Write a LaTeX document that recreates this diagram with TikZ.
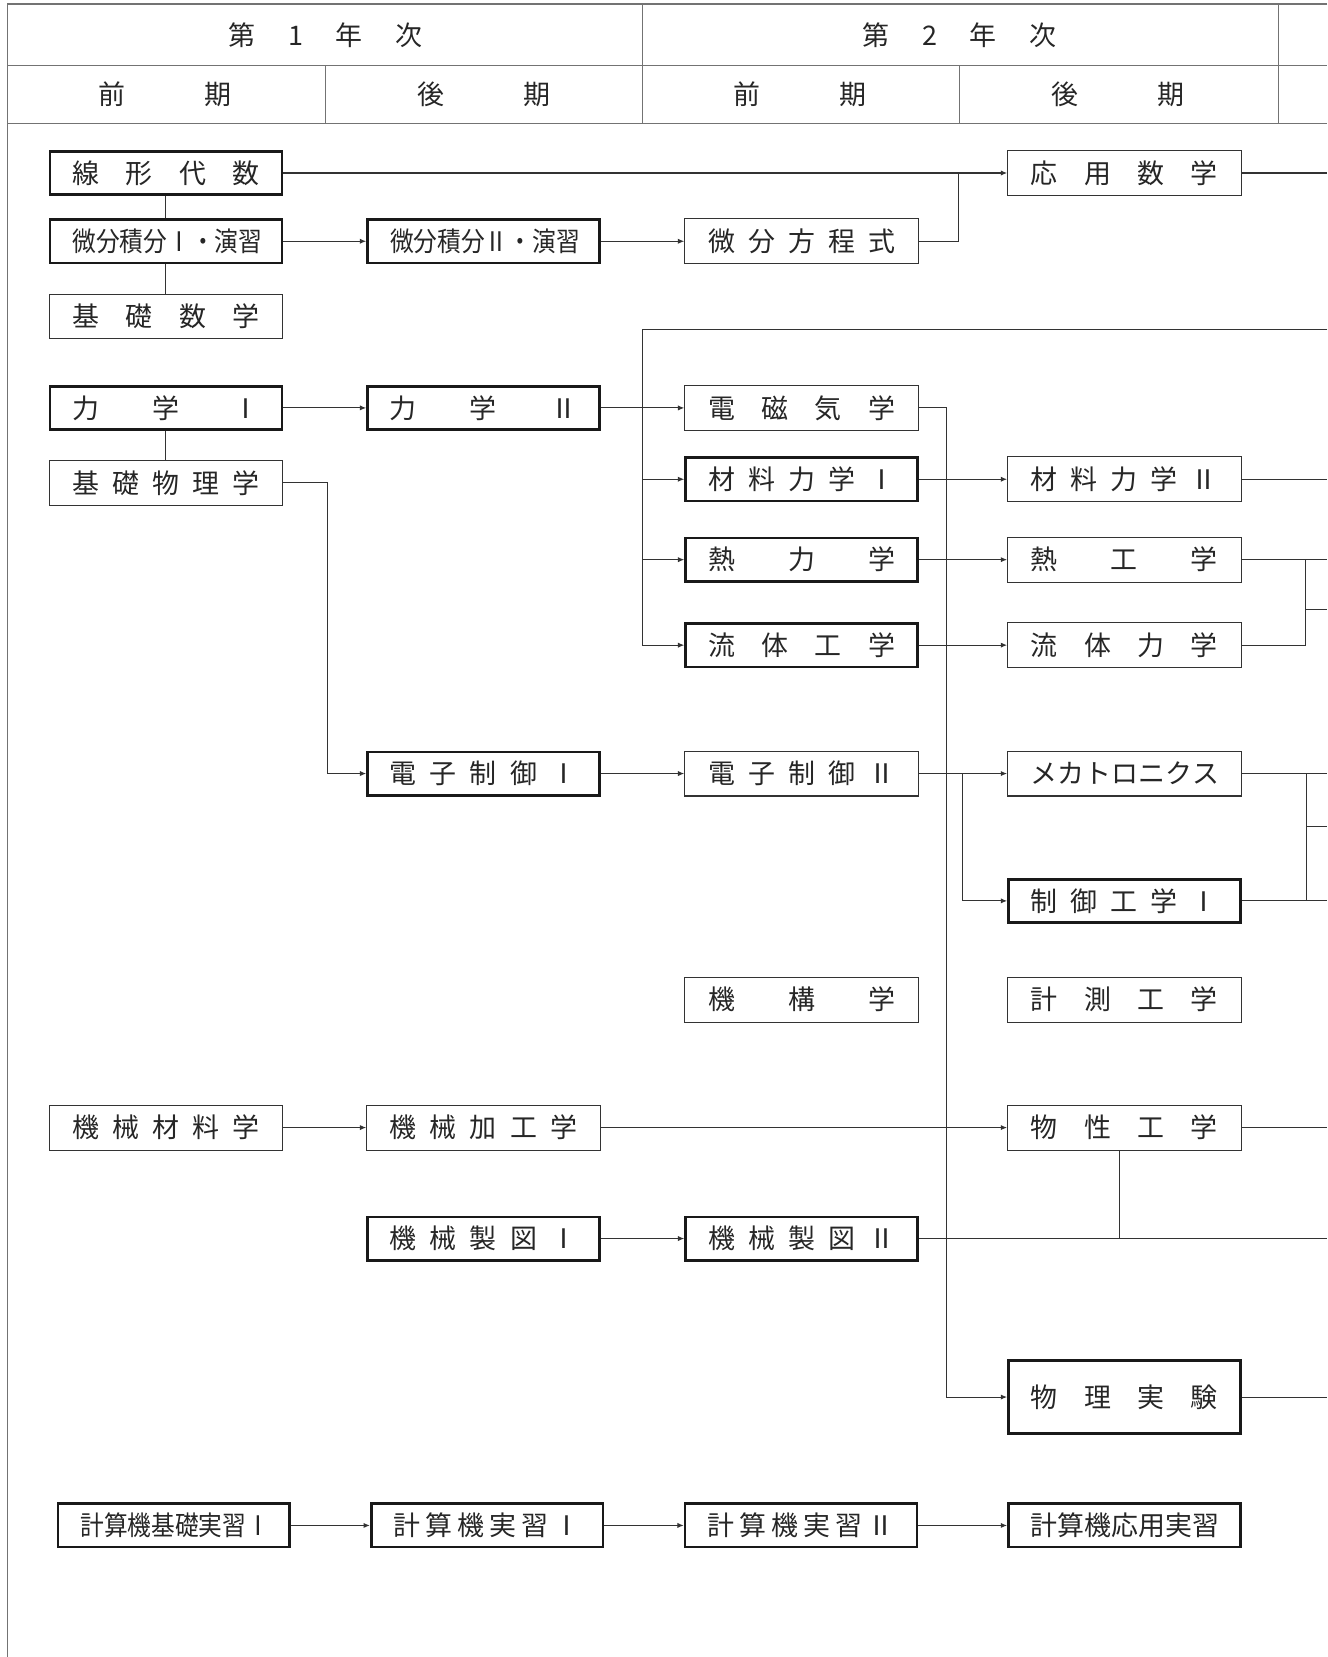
\documentclass[tikz,border=0pt]{standalone}
\usepackage{graphicx}
\usepackage{fontspec}
\newfontfamily\jp{Noto Sans CJK JP}
\usetikzlibrary{arrows.meta}
\newcommand\mf{\hfill}
\newcommand\lab[1]{\makebox[177pt][s]{#1}}
\newcommand\labn[1]{\scalebox{0.88}[1]{\makebox[201pt][s]{#1}}}
\begin{document}
\begin{tikzpicture}[x=1pt,y=-1pt,
  every node/.style={font=\jp\fontsize{25.5}{25.5}\selectfont, text=black!85},
  cbox/.style={draw=black!80, line width=1pt, minimum width=221pt, minimum height=42.5pt, inner sep=0pt},
  tbox/.style={draw=black!90, line width=2.5pt, minimum width=219.5pt, minimum height=41pt, inner sep=0pt},
  conn/.style={draw=black!80, line width=1pt},
  arr/.style={conn, -{Latex[length=6pt,width=5pt]}},
  frame/.style={draw=black!55, line width=1.4pt}]
\useasboundingbox (0,0) rectangle (1256,1568);

% header frame
\draw[frame] (1256,4) -- (7,4) -- (7,1568);
\draw[frame] (7,62) -- (1256,62);
\draw[frame] (7,117) -- (1256,117);
\draw[frame] (608,4) -- (608,117);
\draw[frame] (1210,4) -- (1210,117);
\draw[frame] (308,62) -- (308,117);
\draw[frame] (908,62) -- (908,117);

\node (h1) at (308,33) {\makebox[184pt][s]{第\mf 1\mf 年\mf 次}};
\node (h2) at (908,33) {\makebox[184pt][s]{第\mf 2\mf 年\mf 次}};
\node (s1) at (156,89) {\makebox[126pt][s]{前\mf 期}};
\node (s2) at (458,89) {\makebox[126pt][s]{後\mf 期}};
\node (s3) at (757,89) {\makebox[126pt][s]{前\mf 期}};
\node (s4) at (1058,89) {\makebox[126pt][s]{後\mf 期}};

% boxes
\node[tbox] (A1) at (157,163.7) {\lab{線\mf 形\mf 代\mf 数}};
\node[tbox] (A2) at (157,228.3) {\labn{微\mf 分\mf 積\mf 分\mf Ⅰ\mf ・\mf 演\mf 習}};
\node[cbox] (A3) at (157,299.5) {\lab{基\mf 礎\mf 数\mf 学}};
\node[cbox] (D1) at (1064,163.7) {\lab{応\mf 用\mf 数\mf 学}};
\node[tbox] (B2) at (457.5,228.3) {\labn{微\mf 分\mf 積\mf 分\mf Ⅱ\mf ・\mf 演\mf 習}};
\node[cbox] (C2) at (758.5,228.3) {\lab{微\mf 分\mf 方\mf 程\mf 式}};
\node[tbox] (A4) at (157,386) {\lab{力\mf 学\mf Ⅰ}};
\node[tbox] (B4) at (457.5,386) {\lab{力\mf 学\mf Ⅱ}};
\node[cbox] (C4) at (758.5,386) {\lab{電\mf 磁\mf 気\mf 学}};
\node[cbox] (A5) at (157,457) {\lab{基\mf 礎\mf 物\mf 理\mf 学}};
\node[tbox] (C5) at (758.5,453.5) {\lab{材\mf 料\mf 力\mf 学\mf Ⅰ}};
\node[cbox] (D5) at (1064,453.5) {\lab{材\mf 料\mf 力\mf 学\mf Ⅱ}};
\node[tbox] (C6) at (758.5,529.6) {\lab{熱\mf 力\mf 学}};
\node[cbox] (D6) at (1064,529.6) {\lab{熱\mf 工\mf 学}};
\node[tbox] (C7) at (758.5,610.5) {\lab{流\mf 体\mf 工\mf 学}};
\node[cbox] (D7) at (1064,610.5) {\lab{流\mf 体\mf 力\mf 学}};
\node[tbox] (B8) at (457.5,732) {\lab{電\mf 子\mf 制\mf 御\mf Ⅰ}};
\node[cbox] (C8) at (758.5,732) {\lab{電\mf 子\mf 制\mf 御\mf Ⅱ}};
\node[cbox] (D8) at (1064,732) {\lab{メ\mf カ\mf ト\mf ロ\mf ニ\mf ク\mf ス}};
\node[tbox] (D9) at (1064,852.5) {\lab{制\mf 御\mf 工\mf 学\mf Ⅰ}};
\node[cbox] (C10) at (758.5,946) {\lab{機\mf 構\mf 学}};
\node[cbox] (D10) at (1064,946) {\lab{計\mf 測\mf 工\mf 学}};
\node[cbox] (A11) at (157,1067) {\lab{機\mf 械\mf 材\mf 料\mf 学}};
\node[cbox] (B11) at (457.5,1067) {\lab{機\mf 械\mf 加\mf 工\mf 学}};
\node[cbox] (D11) at (1064,1067) {\lab{物\mf 性\mf 工\mf 学}};
\node[tbox] (B12) at (457.5,1172) {\lab{機\mf 械\mf 製\mf 図\mf Ⅰ}};
\node[tbox] (C12) at (758.5,1172) {\lab{機\mf 械\mf 製\mf 図\mf Ⅱ}};
\node[tbox, minimum height=69pt] (D13) at (1064,1322) {\lab{物\mf 理\mf 実\mf 験}};
\node[tbox] (E1) at (164.5,1443.5) {\labn{計\mf 算\mf 機\mf 基\mf 礎\mf 実\mf 習\mf Ⅰ}};
\node[tbox] (E2) at (461,1443.5) {\lab{計\mf 算\mf 機\mf 実\mf 習\mf Ⅰ}};
\node[tbox] (E3) at (758,1443.5) {\lab{計\mf 算\mf 機\mf 実\mf 習\mf Ⅱ}};
\node[tbox] (E4) at (1064,1443.5) {\lab{計\mf 算\mf 機\mf 応\mf 用\mf 実\mf 習}};

% free ends and junctions
\coordinate (eD1) at (1256,163.7);
\coordinate (j1) at (907,163.7);
\coordinate (bt) at (608,311.7);
\coordinate (be) at (1256,311.7);
\coordinate (eD5) at (1256,453.5);
\coordinate (eD6) at (1256,529.6);
\coordinate (jh) at (1235.5,529.6);
\coordinate (jhs) at (1235.5,577);
\coordinate (ehs) at (1256,577);
\coordinate (j3) at (911,732);
\coordinate (eD8) at (1256,732);
\coordinate (eD9) at (1256,852.5);
\coordinate (jm) at (1236,732);
\coordinate (jmb) at (1236,852.5);
\coordinate (jms) at (1236,782);
\coordinate (ems) at (1256,782);
\coordinate (eD11) at (1256,1067);
\coordinate (j6) at (1059,1172);
\coordinate (eC12) at (1256,1172);
\coordinate (eD13) at (1256,1322);

% connectors
\draw[arr] (A1) -- (D1);
\draw[conn] (D1.east) -- (eD1);
\draw[conn] (A1.south) -- (A2.north);
\draw[conn] (A2.south) -- (A3.north);
\draw[arr] (A2) -- (B2);
\draw[arr] (B2) -- (C2);
\draw[conn] (C2.east) -| (j1);

\draw[arr] (A4) -- (B4);
\draw[arr] (B4) -- (C4);
\draw[conn] (A4.south) -- (A5.north);
\draw[arr] (be) -- (bt) |- (C7.west);
\draw[arr] (bt |- C5.west) -- (C5.west);
\draw[arr] (bt |- C6.west) -- (C6.west);
\draw[arr] (C5) -- (D5);
\draw[conn] (D5.east) -- (eD5);
\draw[arr] (C6) -- (D6);
\draw[conn] (D6.east) -- (eD6);
\draw[arr] (C7) -- (D7);
\draw[conn] (D7.east) -| (jh);
\draw[conn] (jhs) -- (ehs);

\draw[arr] (A5.east) -- ++(42,0) |- (B8.west);
\draw[arr] (B8) -- (C8);
\draw[arr] (C8) -- (D8);
\draw[arr] (j3) |- (D9.west);
\draw[conn] (D8.east) -- (eD8);
\draw[conn] (D9.east) -- (eD9);
\draw[conn] (jm) -- (jmb);
\draw[conn] (jms) -- (ems);

\draw[arr] (C4.east) -- ++(26,0) |- (D13.west);
\draw[conn] (D13.east) -- (eD13);

\draw[arr] (A11) -- (B11);
\draw[arr] (B11) -- (D11);
\draw[conn] (D11.east) -- (eD11);
\draw[conn] (j6) -- (j6 |- D11.south);
\draw[arr] (B12) -- (C12);
\draw[conn] (C12.east) -- (eC12);

\draw[arr] (E1) -- (E2);
\draw[arr] (E2) -- (E3);
\draw[arr] (E3) -- (E4);
\end{tikzpicture}
\end{document}
